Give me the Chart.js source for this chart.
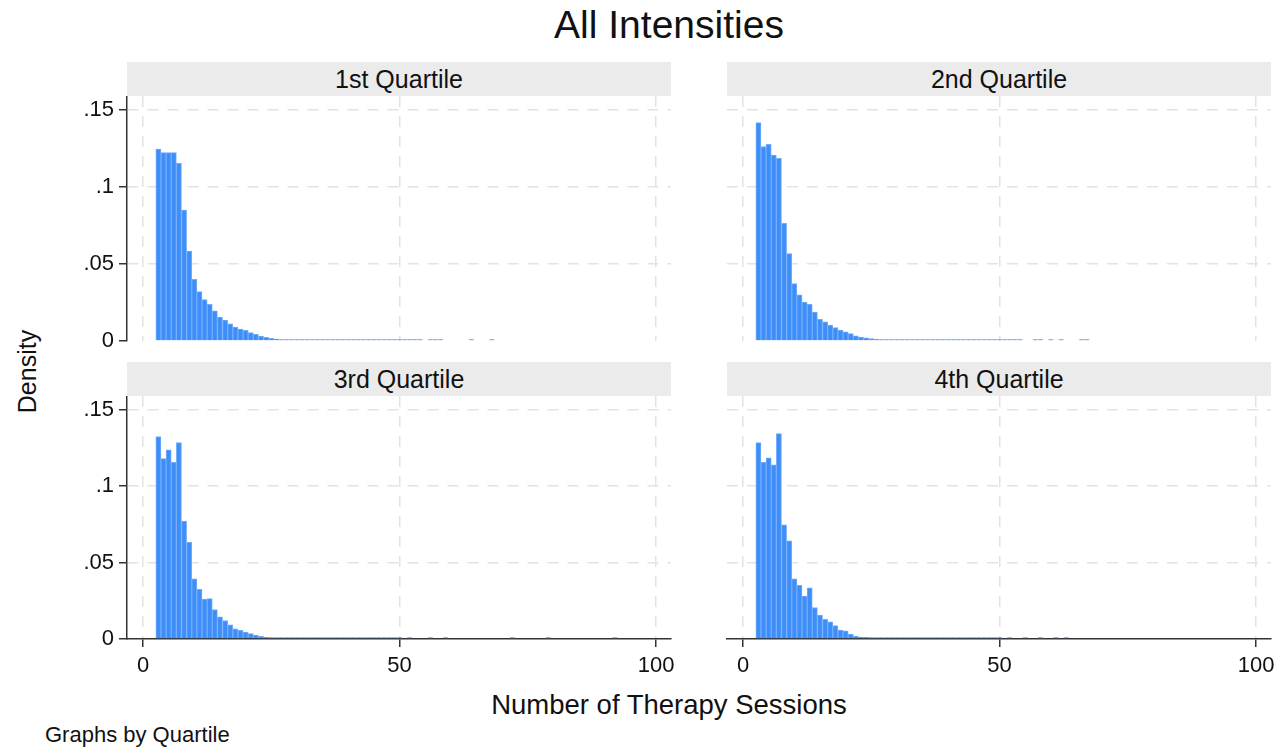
<!DOCTYPE html>
<html>
<head>
<meta charset="utf-8">
<script src="https://cdn.jsdelivr.net/npm/chart.js@4/dist/chart.umd.min.js"></script>
<style>
  body { margin: 0; background: #fff; width: 1287px; height: 749px; overflow: hidden; position: relative;
         font-family: "Liberation Sans", Arial, sans-serif; color: #111; }
  .txt { position: absolute; white-space: nowrap; }
  .head { position: absolute; background: #ebebeb; text-align: center; font-size: 25px; line-height: 34px; }
  canvas { position: absolute; }
</style>
</head>
<body>
<div class="txt" style="left:469px; top:3px; width:400px; text-align:center; font-size:39px;">All Intensities</div>
<div class="txt" style="left:419px; top:689px; width:500px; text-align:center; font-size:27.5px;">Number of Therapy Sessions</div>
<div class="txt" style="left:-23px; top:357px; width:100px; text-align:center; font-size:25px; transform:rotate(-90deg);">Density</div>
<div class="txt" style="left:45px; top:722px; font-size:22px;">Graphs by Quartile</div>

<canvas id="p1"></canvas>
<canvas id="p2"></canvas>
<canvas id="p3"></canvas>
<canvas id="p4"></canvas>

<script>
// histogram bins are one session wide, first bin is 3 sessions
const firstSession = 3;

// density per session, quartile 1 (sessions 3..68)
const q1Density = [.1245, .1223, .1223, .1223, .1153, .0850, .0584, .0400, .0320, .0268,
  .0238, .0195, .0156, .0136, .0112, .0091, .0078, .0069, .0054, .0043,
  .0032, .0024, .0017, .0013, .0009, .0007, .0006, .0005, .0004, .0004,
  .0003, .0003, .0003, .0003, .0002, .0002, .0002, .0002, .0002, .0002,
  .0002, .0002, .0002, .0002, .0002, .0002, .0002, .0002, .0002, .0002,
  .0002, .0002, null, .0002, .0002, .0002, null, null, null, null,
  null, .0002, null, null, null, .0002];

// quartile 2 (sessions 3..67)
const q2Density = [.1418, .1262, .1277, .1206, .1186, .0764, .0567, .0372, .0299, .0253,
  .0238, .0188, .0141, .0125, .0104, .0087, .0071, .0060, .0048, .0034,
  .0026, .0020, .0015, .0011, .0008, .0006, .0005, .0004, .0004, .0003,
  .0003, .0003, .0002, .0002, .0002, .0002, .0002, .0002, .0002, .0002,
  .0002, .0002, .0002, .0002, .0002, .0002, .0002, .0002, .0002, .0002,
  .0002, .0002, null, null, .0002, .0002, null, .0002, null, .0002,
  null, null, null, .0002, .0002];

// quartile 3 (sessions 3..92)
const q3Density = [.1325, .1180, .1238, .1156, .1286, .0771, .0632, .0394, .0325, .0262,
  .0264, .0193, .0145, .0121, .0093, .0067, .0056, .0045, .0035, .0026,
  .0017, .0011, .0008, .0006, .0005, .0004, .0003, .0003, .0002, .0002,
  .0002, .0002, .0002, .0001, .0001, .0001, .0001, .0001, .0001, .0001,
  .0001, .0001, .0001, .0001, .0001, .0001, .0001, .0001, null, .0001,
  null, null, null, .0001, null, null, .0001, null, null, null,
  null, null, null, null, null, null, null, null, null, .0001,
  null, null, null, null, null, null, .0001, null, null, null,
  null, null, null, null, null, null, null, null, null, .0001];

// quartile 4 (sessions 3..63)
const q4Density = [.1286, .1156, .1186, .1139, .1344, .0747, .0643, .0394, .0351, .0281,
  .0335, .0206, .0156, .0128, .0112, .0087, .0058, .0054, .0032, .0019,
  .0013, .0011, .0006, .0004, .0003, .0003, .0002, .0002, .0002, .0002,
  .0001, .0001, .0001, .0001, .0001, .0001, .0001, .0001, .0001, .0001,
  .0001, .0001, .0001, .0001, .0001, .0001, .0001, .0001, null, .0001,
  null, null, .0001, null, null, .0001, null, null, .0001, null,
  .0001];

const panelNames = ["1st Quartile", "2nd Quartile", "3rd Quartile", "4th Quartile"];
const yTickValues = [0, 0.05, 0.1, 0.15];
const yTickLabels = ["0", ".05", ".1", ".15"];
const xTickValues = [0, 50, 100];
const xTickLabels = ["0", "50", "100"];

// where each plot area sits on the page
const panels = [
  { id: "p1", data: q1Density, left: 127, top: 96, h: 245, yLabels: true, xLabels: false },
  { id: "p2", data: q2Density, left: 727, top: 96, h: 245, yLabels: false, xLabels: false },
  { id: "p3", data: q3Density, left: 127, top: 396, h: 243, yLabels: true, xLabels: true },
  { id: "p4", data: q4Density, left: 727, top: 396, h: 243, yLabels: false, xLabels: true }
];
const plotW = 544, padL = 100, padR = 30, padB = 60;
const font = { family: "'Liberation Sans', Arial, sans-serif", size: 22 };

panels.forEach((p, i) => {
  // header band
  const head = document.createElement("div");
  head.className = "head";
  head.style.left = p.left + "px";
  head.style.top = (p.top - 34) + "px";
  head.style.width = plotW + "px";
  head.style.height = "34px";
  head.textContent = panelNames[i];
  document.body.appendChild(head);

  const cv = document.getElementById(p.id);
  cv.width = plotW + padL + padR;
  cv.height = p.h + padB;
  cv.style.left = (p.left - padL) + "px";
  cv.style.top = p.top + "px";

  const points = p.data.map((v, k) => ({ x: firstSession + k, y: v }));

  new Chart(cv, {
    type: "bar",
    data: {
      datasets: [{
        data: points,
        backgroundColor: "#3d8ef9",
        borderColor: "#72adfc",
        borderWidth: 1,
        borderSkipped: "start",
        barPercentage: 1,
        categoryPercentage: 1,
        minBarLength: 1.5
      }]
    },
    options: {
      responsive: false,
      animation: false,
      layout: { padding: { left: 0, right: padR, top: 0, bottom: 0 } },
      plugins: { legend: { display: false }, tooltip: { enabled: false } },
      scales: {
        x: {
          type: "linear",
          offset: false,
          min: -3.12,
          max: 102.92,
          afterBuildTicks: s => { s.ticks = xTickValues.map(v => ({ value: v })); },
          afterFit: s => { s.height = padB; s.paddingLeft = 0; s.paddingRight = 0; },
          ticks: {
            display: p.xLabels,
            autoSkip: false,
            maxRotation: 0,
            padding: 6,
            color: "#111",
            font: font,
            callback: (v, k) => xTickLabels[k]
          },
          grid: {
            offset: false,
            color: "#e3e3e3",
            lineWidth: 1.5,
            drawTicks: p.xLabels,
            tickLength: 8,
            tickColor: "#333",
            tickWidth: 1.5,
            tickBorderDash: []
          },
          border: { display: p.xLabels, color: "#333", width: 1.5, dash: [11, 9] }
        },
        y: {
          min: 0,
          max: 0.159,
          afterBuildTicks: s => { s.ticks = yTickValues.map(v => ({ value: v })); },
          afterFit: s => { s.width = padL; s.paddingTop = 0; s.paddingBottom = 0; },
          ticks: {
            display: p.yLabels,
            padding: 5,
            color: "#111",
            font: font,
            callback: (v, k) => yTickLabels[k]
          },
          grid: {
            color: c => (c.tick && c.tick.value === 0) ? "rgba(0,0,0,0)" : "#e3e3e3",
            lineWidth: 1.5,
            drawTicks: p.yLabels,
            tickLength: 8,
            tickColor: "#333",
            tickWidth: 1.5,
            tickBorderDash: []
          },
          border: { display: p.yLabels, color: "#333", width: 1.5, dash: [11, 9] }
        }
      }
    }
  });
});
</script>
</body>
</html>
